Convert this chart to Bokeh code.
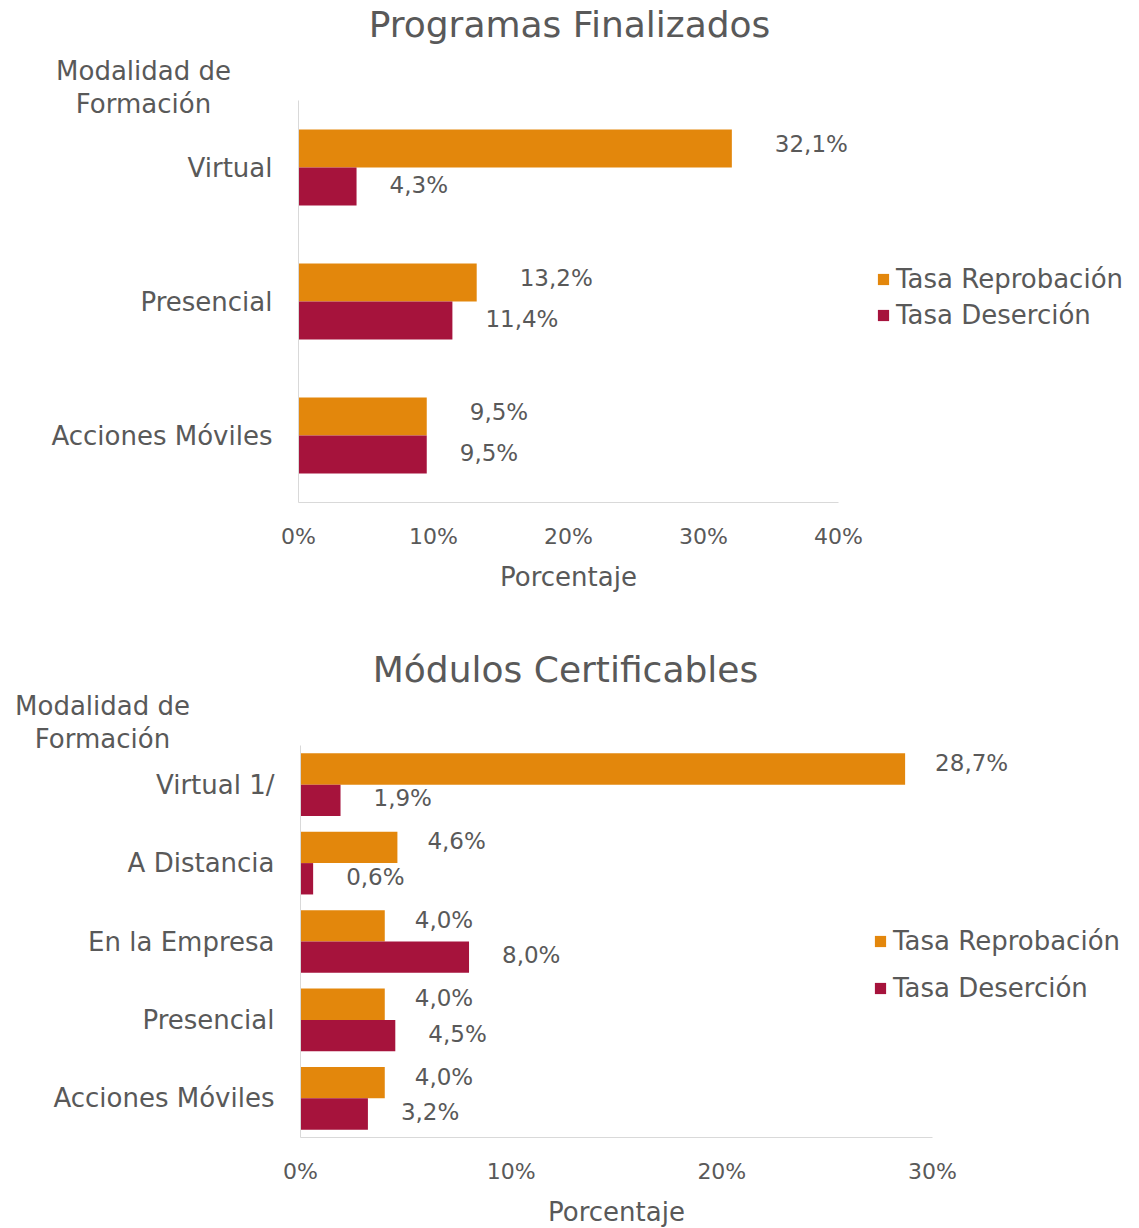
from bokeh.plotting import figure
from bokeh.models import Range1d, FixedTicker, Label, Legend, LegendItem, ColumnDataSource
from bokeh.layouts import column
from bokeh.embed import file_html
from bokeh.resources import INLINE
from bokeh.core.properties import value

FONT = "DejaVu Sans"
TXT = "#595959"
ORANGE = "#E3870C"
CRIMSON = "#A6133C"
AXIS = "#D9D9D9"

series_names = ["Tasa Reprobación", "Tasa Deserción"]
y_title = "Modalidad de\nFormación"
x_title = "Porcentaje"

# Chart 1
title1 = "Programas Finalizados"
cats1 = ["Virtual", "Presencial", "Acciones Móviles"]
reprob1 = [32.1, 13.2, 9.5]
deser1 = [4.3, 11.4, 9.5]
ticks1 = [0, 10, 20, 30, 40]
tick_labels1 = ["0%", "10%", "20%", "30%", "40%"]

# Chart 2
title2 = "Módulos Certificables"
cats2 = ["Virtual 1/", "A Distancia", "En la Empresa", "Presencial", "Acciones Móviles"]
reprob2 = [28.7, 4.6, 4.0, 4.0, 4.0]
deser2 = [1.9, 0.6, 8.0, 4.5, 3.2]
ticks2 = [0, 10, 20, 30]
tick_labels2 = ["0%", "10%", "20%", "30%"]


def fmt(v):
    return ("%.1f%%" % v).replace(".", ",")


def make_chart(title, cats, rep, des, ticks, tlabels, W, H, x0px, x1px, top_px, bot_px,
               bar_h, lab_off, title_pos, ytitle_pos, legend_pos, legend_spacing):
    n = len(cats)
    xmax = ticks[-1]
    sx = (x1px - x0px) / xmax            # px per percent
    sy = (bot_px - top_px) / n           # px per category
    xr = Range1d(-x0px / sx, (W - x0px) / sx)
    yr = Range1d(-0.5 - (H - bot_px) / sy, -0.5 + bot_px / sy)

    def X(px):
        return (px - x0px) / sx

    def Y(py):
        return -0.5 + (bot_px - py) / sy

    p = figure(width=W, height=H, output_backend="svg", toolbar_location=None,
               x_range=xr, y_range=yr)
    p.min_border = 0
    p.outline_line_color = None
    p.xgrid.grid_line_color = None
    p.ygrid.grid_line_color = None
    p.background_fill_color = "white"
    p.border_fill_color = "white"

    ypos = [n - 1 - i for i in range(n)]
    src = ColumnDataSource(dict(
        y1=[y + bar_h / 2 for y in ypos], y2=[y - bar_h / 2 for y in ypos],
        rep=rep, des=des,
        rep_l=[fmt(v) for v in rep], des_l=[fmt(v) for v in des]))
    r1 = p.hbar(y="y1", right="rep", left=0, height=bar_h, source=src,
                fill_color=ORANGE, line_color=None)
    r2 = p.hbar(y="y2", right="des", left=0, height=bar_h, source=src,
                fill_color=CRIMSON, line_color=None)
    (ox1, oy1), (ox2, oy2) = lab_off
    p.text(x="rep", y="y1", text="rep_l", source=src,
           x_offset=ox1, y_offset=oy1, text_align="left", text_baseline="middle",
           text_font=value(FONT), text_font_size="23px", text_color=TXT)
    p.text(x="des", y="y2", text="des_l", source=src,
           x_offset=ox2, y_offset=oy2, text_align="left", text_baseline="middle",
           text_font=value(FONT), text_font_size="23px", text_color=TXT)

    xa = p.xaxis[0]
    xa.fixed_location = -0.5
    xa.bounds = (0, xmax)
    xa.ticker = FixedTicker(ticks=ticks)
    xa.major_label_overrides = {t: l for t, l in zip(ticks, tlabels)}
    xa.axis_line_color = AXIS
    xa.major_tick_line_color = None
    xa.minor_tick_line_color = None
    xa.major_label_standoff = 15
    xa.major_label_text_font = FONT
    xa.major_label_text_font_size = "22px"
    xa.major_label_text_color = TXT
    xa.axis_label = x_title
    xa.axis_label_standoff = 10
    xa.axis_label_text_font = FONT
    xa.axis_label_text_font_size = "26px"
    xa.axis_label_text_font_style = "normal"
    xa.axis_label_text_color = TXT

    ya = p.yaxis[0]
    ya.fixed_location = 0
    ya.bounds = (-0.5, n - 0.5)
    ya.ticker = FixedTicker(ticks=ypos)
    ya.major_label_overrides = {y: c for y, c in zip(ypos, cats)}
    ya.axis_line_color = AXIS
    ya.major_tick_line_color = None
    ya.minor_tick_line_color = None
    ya.major_label_standoff = 20
    ya.major_label_text_font = FONT
    ya.major_label_text_font_size = "26px"
    ya.major_label_text_color = TXT

    tx, ty = title_pos
    p.add_layout(Label(x=X(tx), y=Y(ty), text=title,
                       text_align="center", text_baseline="middle", text_font=FONT,
                       text_font_size="36px", text_color=TXT))
    yx, yy = ytitle_pos
    p.add_layout(Label(x=X(yx), y=Y(yy), text=y_title,
                       text_align="center", text_baseline="middle", text_font=FONT,
                       text_font_size="26px", text_color=TXT, text_line_height=1.1))

    lx, ly = legend_pos
    legend = Legend(items=[LegendItem(label=series_names[0], renderers=[r1]),
                           LegendItem(label=series_names[1], renderers=[r2])],
                    location=(lx, H - ly), orientation="vertical",
                    label_text_font=FONT, label_text_font_size="26px", label_text_color=TXT,
                    glyph_width=14, glyph_height=14, label_height=30, label_standoff=6,
                    spacing=legend_spacing, padding=0, margin=0, border_line_color=None,
                    background_fill_alpha=0)
    p.add_layout(legend, "center")
    return p


p1 = make_chart(title1, cats1, reprob1, deser1, ticks1, tick_labels1,
                W=1139, H=610, x0px=298, x1px=838, top_px=100, bot_px=502, bar_h=0.284,
                lab_off=((43, -4), (33, -2)),
                title_pos=(569, 24), ytitle_pos=(143, 87),
                legend_pos=(876, 330), legend_spacing=6)
p2 = make_chart(title2, cats2, reprob2, deser2, ticks2, tick_labels2,
                W=1139, H=618, x0px=300, x1px=932, top_px=135, bot_px=527, bar_h=0.4,
                lab_off=((30, -6), (33, -2)),
                title_pos=(565, 59), ytitle_pos=(102, 112),
                legend_pos=(873, 393), legend_spacing=17)

layout = column(p1, p2, spacing=0)
open("out.html", "w").write(file_html(layout, INLINE))
